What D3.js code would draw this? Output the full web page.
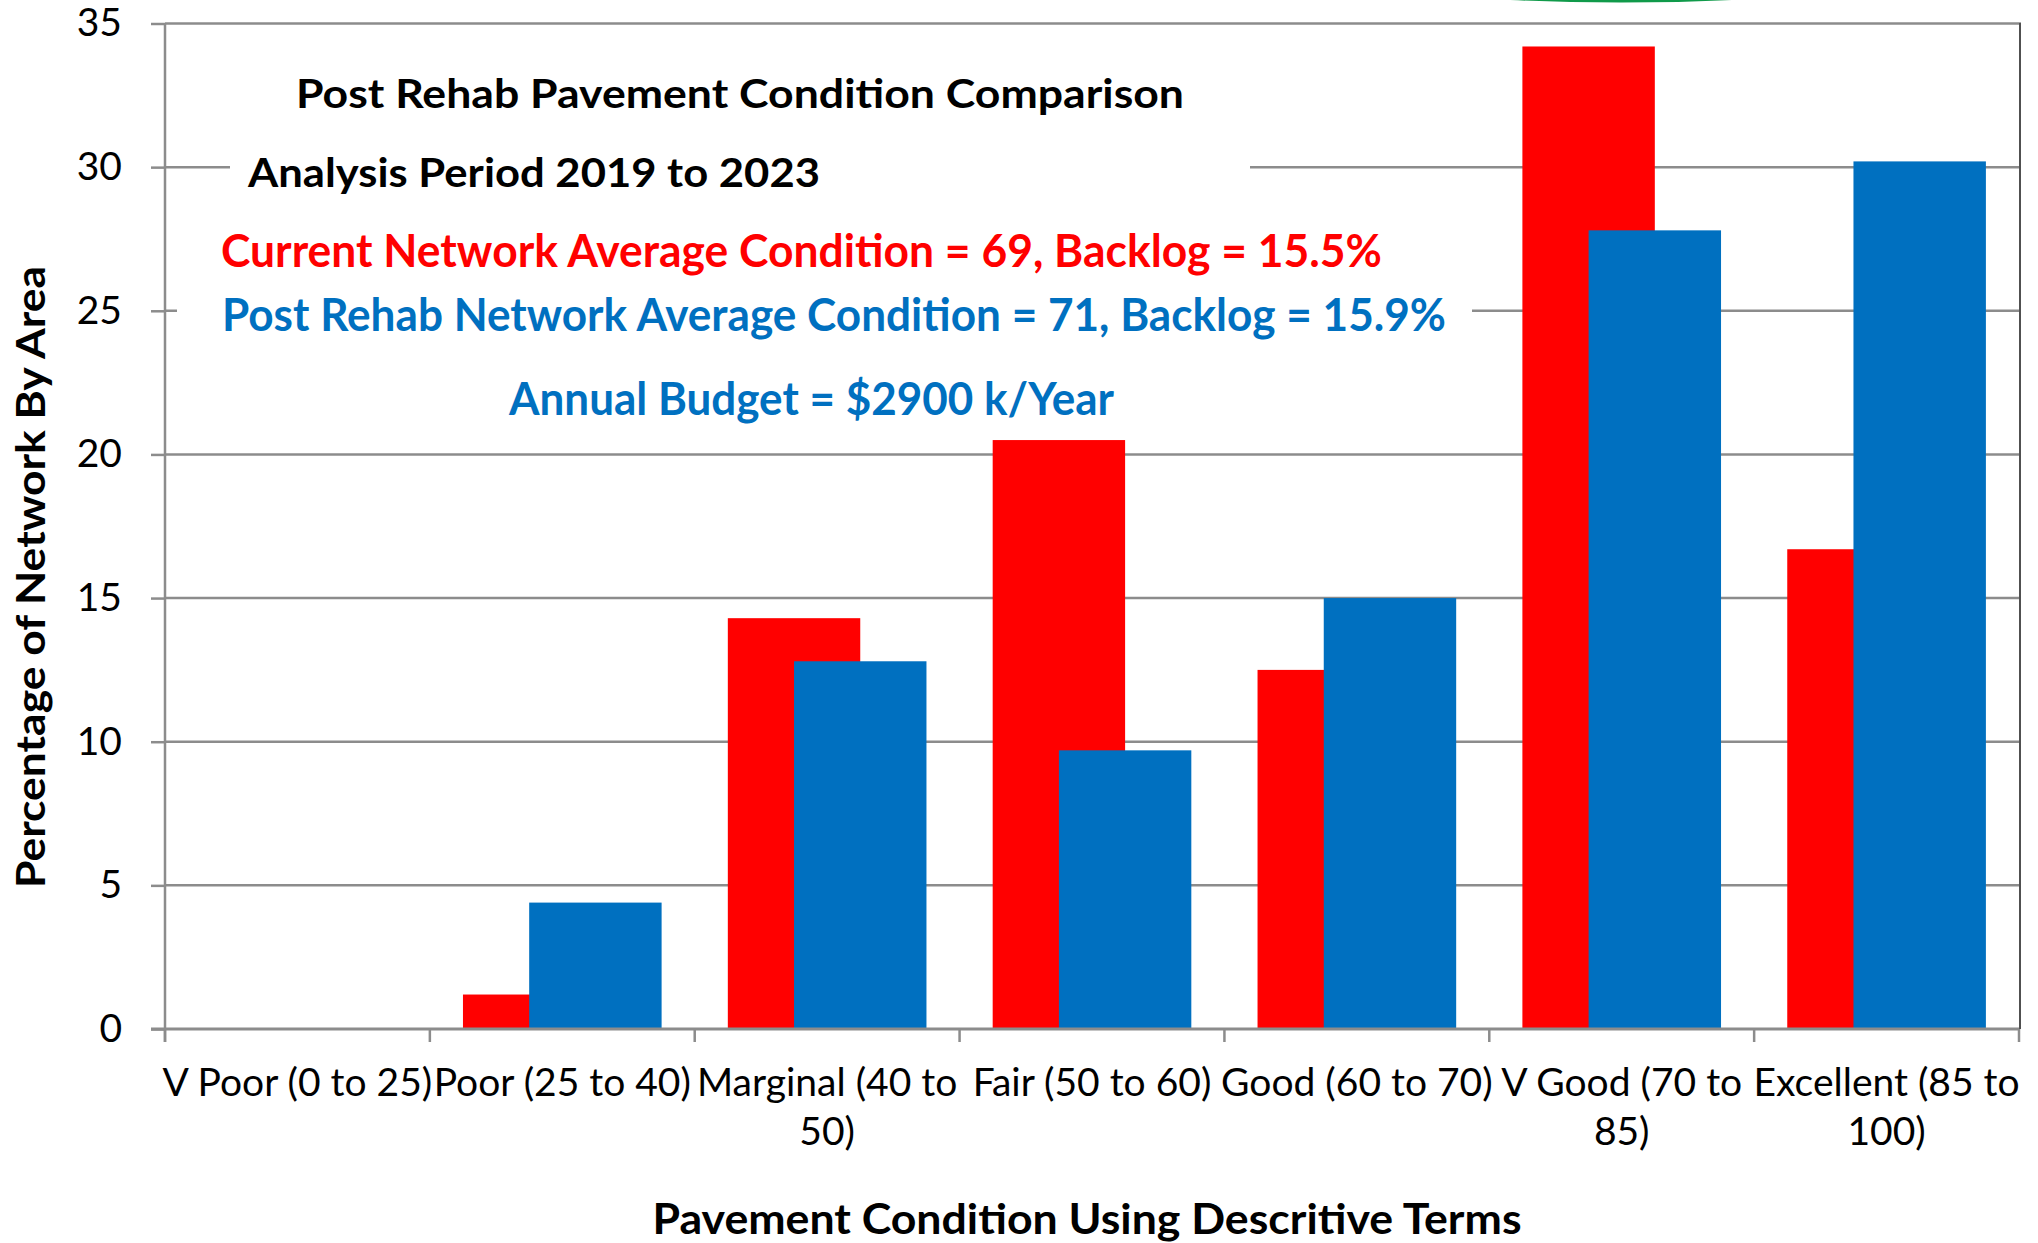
<!DOCTYPE html>
<html>
<head>
<meta charset="utf-8">
<script src="https://cdn.jsdelivr.net/npm/d3@7"></script>
<style>
  body { margin: 0; background: white; }
  text { font-family: Lato, "Open Sans", sans-serif; }
</style>
</head>
<body>
<div id="chart"></div>
<script>
// categories, wrapped the way the original axis wraps them
let categories = ["V Poor (0 to 25)", "Poor (25 to 40)", "Marginal (40 to 50)", "Fair (50 to 60)", "Good (60 to 70)", "V Good (70 to 85)", "Excellent (85 to 100)"];
let categoryLines = [["V Poor (0 to 25)"], ["Poor (25 to 40)"], ["Marginal (40 to", "50)"], ["Fair (50 to 60)"], ["Good (60 to 70)"], ["V Good (70 to", "85)"], ["Excellent (85 to", "100)"]];
let currentValues = [0, 1.2, 14.3, 20.5, 12.5, 34.2, 16.7];
let postRehabValues = [0, 4.4, 12.8, 9.7, 15.0, 27.8, 30.2];
let yTicks = [0, 5, 10, 15, 20, 25, 30, 35];

let titleLines = ["Post Rehab Pavement Condition Comparison", "Analysis Period 2019 to 2023"];
let currentNote = "Current Network Average Condition  = 69, Backlog = 15.5%";
let postNote = "Post Rehab Network Average Condition = 71, Backlog = 15.9%";
let budgetNote = "Annual Budget = $2900 k/Year";
let yTitle = "Percentage of Network By Area";
let xTitle = "Pavement Condition Using Descritive Terms";

function renderChart() {
    const wSvg = 2038;
    const hSvg = 1243;
    const left = 165;
    const right = 2019;
    const top = 23.5;
    const bottom = 1029;
    const gridColor = "#8c8c8c";

    let xScale = d3.scaleBand(categories, [left, right]);
    let yScale = d3.scaleLinear([0, 35], [bottom, top]);
    let barWidth = xScale.bandwidth() / 2;

    let svg = d3.select("#chart")
        .append("svg")
        .attr("width", wSvg)
        .attr("height", hSvg)
        .style("background-color", "white");

    // green oval peeking in at the top edge
    svg.append("ellipse")
        .attr("cx", 1621)
        .attr("cy", -39)
        .attr("rx", 310)
        .attr("ry", 40)
        .attr("fill", "none")
        .attr("stroke", "#109a4a")
        .attr("stroke-width", 3);

    // gridlines
    svg.selectAll(".grid")
        .data(yTicks.filter(t => t > 0))
        .enter()
        .append("line")
        .attr("class", "grid")
        .attr("x1", left)
        .attr("x2", right)
        .attr("y1", d => yScale(d))
        .attr("y2", d => yScale(d))
        .attr("stroke", gridColor)
        .attr("stroke-width", 2.5);

    // white text boxes that hide parts of the gridlines
    svg.append("rect").attr("x", 230).attr("y", 60).attr("width", 1020).attr("height", 140).attr("fill", "white");
    svg.append("rect").attr("x", 177).attr("y", 215).attr("width", 1295).attr("height", 220).attr("fill", "white");

    // y axis
    let yAxis = d3.axisLeft(yScale).tickValues(yTicks).tickSize(14).tickPadding(29);
    let yG = svg.append("g")
        .attr("transform", `translate(${left}, 0)`)
        .call(yAxis);
    yG.select(".domain").remove();
    yG.selectAll(".tick line").attr("stroke", gridColor).attr("stroke-width", 2.5);
    yG.selectAll("text")
        .attr("fill", "black")
        .style("font-size", "39px")
        .style("font-family", "Lato, sans-serif");
    svg.append("line")
        .attr("x1", left).attr("x2", left)
        .attr("y1", top).attr("y2", bottom + 13)
        .attr("stroke", gridColor)
        .attr("stroke-width", 2.5);

    // right edge
    svg.append("line")
        .attr("x1", right + 1).attr("x2", right + 1)
        .attr("y1", top - 1).attr("y2", bottom)
        .attr("stroke", "#505050")
        .attr("stroke-width", 2);

    // bars
    svg.selectAll(".barCurrent")
        .data(currentValues)
        .enter()
        .append("rect")
        .attr("class", "barCurrent")
        .attr("x", (d, i) => xScale(categories[i]) + barWidth * 0.25)
        .attr("y", d => yScale(d))
        .attr("width", barWidth)
        .attr("height", d => yScale(0) - yScale(d))
        .attr("fill", "#FF0000");

    svg.selectAll(".barPost")
        .data(postRehabValues)
        .enter()
        .append("rect")
        .attr("class", "barPost")
        .attr("x", (d, i) => xScale(categories[i]) + barWidth * 0.75)
        .attr("y", d => yScale(d))
        .attr("width", barWidth)
        .attr("height", d => yScale(0) - yScale(d))
        .attr("fill", "#0070C0");

    // x axis line and boundary ticks
    svg.append("line")
        .attr("x1", left - 14).attr("x2", right)
        .attr("y1", bottom).attr("y2", bottom)
        .attr("stroke", gridColor)
        .attr("stroke-width", 3);

    let boundaries = categories.map(c => xScale(c)).concat([right]);
    svg.selectAll(".xTick")
        .data(boundaries)
        .enter()
        .append("line")
        .attr("class", "xTick")
        .attr("x1", d => d).attr("x2", d => d)
        .attr("y1", bottom).attr("y2", bottom + 13)
        .attr("stroke", gridColor)
        .attr("stroke-width", 2.5);

    let xLabels = svg.selectAll(".xLabel")
        .data(categories)
        .enter()
        .append("text")
        .attr("class", "xLabel")
        .attr("x", d => xScale(d) + xScale.bandwidth() / 2)
        .attr("y", 1096)
        .attr("text-anchor", "middle")
        .attr("fill", "black")
        .style("font-size", "39px");
    xLabels.each(function(d, i) {
        let t = d3.select(this);
        categoryLines[i].forEach((line, j) => {
            t.append("tspan")
                .attr("x", xScale(d) + xScale.bandwidth() / 2)
                .attr("dy", j == 0 ? 0 : 49)
                .text(line);
        });
    });

    // annotations
    svg.append("text")
        .attr("x", 296).attr("y", 108)
        .attr("fill", "black")
        .style("font-size", "40px").style("font-weight", "bold")
        .attr("textLength", 888).attr("lengthAdjust", "spacingAndGlyphs")
        .text(titleLines[0]);
    svg.append("text")
        .attr("x", 248).attr("y", 187)
        .attr("fill", "black")
        .style("font-size", "40px").style("font-weight", "bold")
        .attr("textLength", 572).attr("lengthAdjust", "spacingAndGlyphs")
        .text(titleLines[1]);
    svg.append("text")
        .attr("x", 221).attr("y", 267)
        .attr("fill", "#FF0000")
        .style("font-size", "45px").style("font-weight", "bold")
        .attr("textLength", 1161).attr("lengthAdjust", "spacingAndGlyphs")
        .text(currentNote);
    svg.append("text")
        .attr("x", 222).attr("y", 331)
        .attr("fill", "#0070C0")
        .style("font-size", "45px").style("font-weight", "bold")
        .attr("textLength", 1224).attr("lengthAdjust", "spacingAndGlyphs")
        .text(postNote);
    svg.append("text")
        .attr("x", 509).attr("y", 415)
        .attr("fill", "#0070C0")
        .style("font-size", "45px").style("font-weight", "bold")
        .attr("textLength", 605).attr("lengthAdjust", "spacingAndGlyphs")
        .text(budgetNote);

    // axis titles
    svg.append("text")
        .attr("transform", "translate(45, 577) rotate(-90)")
        .attr("text-anchor", "middle")
        .attr("fill", "black")
        .style("font-size", "40px").style("font-weight", "bold")
        .attr("textLength", 622).attr("lengthAdjust", "spacingAndGlyphs")
        .text(yTitle);
    svg.append("text")
        .attr("x", 1087).attr("y", 1234)
        .attr("text-anchor", "middle")
        .attr("fill", "black")
        .style("font-size", "42px").style("font-weight", "bold")
        .attr("textLength", 869).attr("lengthAdjust", "spacingAndGlyphs")
        .text(xTitle);
}

renderChart();
</script>
</body>
</html>
